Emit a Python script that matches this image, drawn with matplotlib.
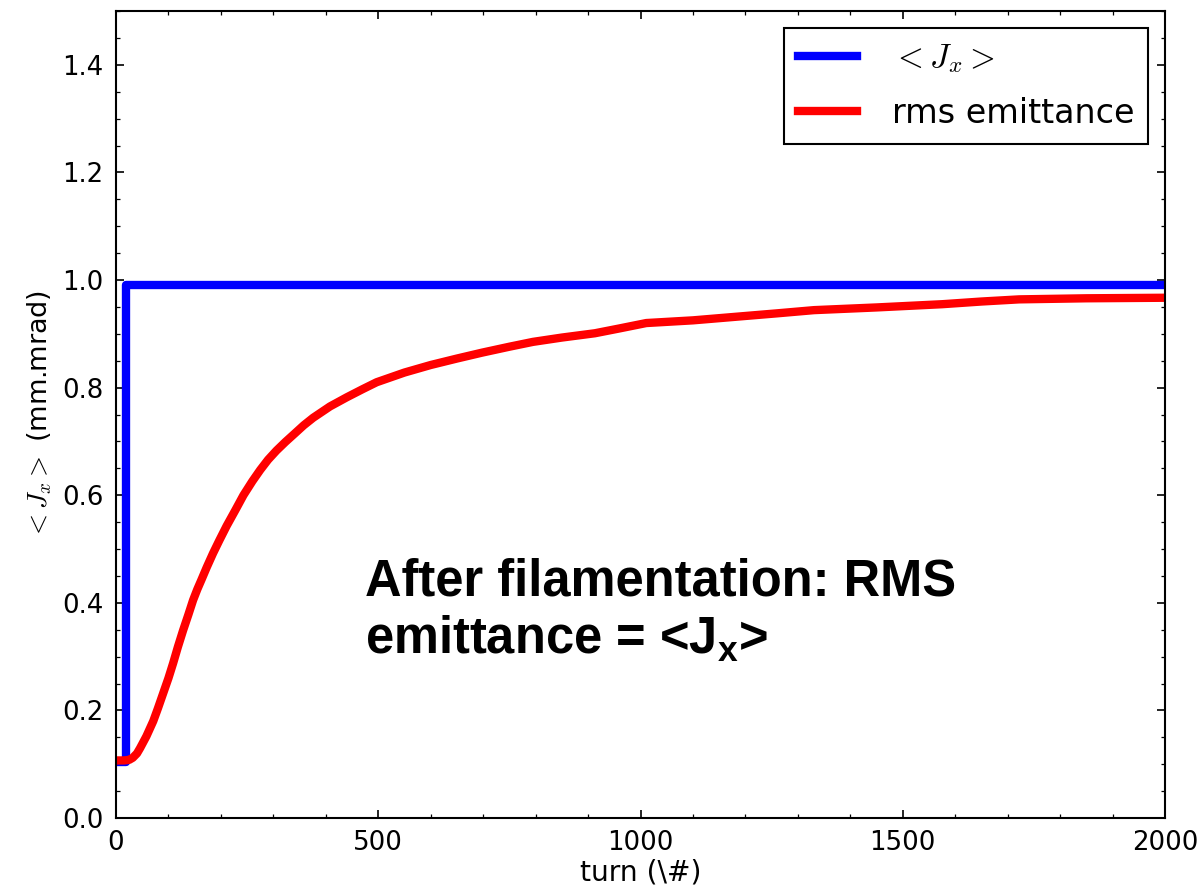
import matplotlib
matplotlib.use("Agg")
import matplotlib.pyplot as plt
from matplotlib.ticker import MultipleLocator

# blue: <J_x>, jumps right after injection
jx_turn = [0, 20, 20, 2000]
jx_val = [0.105, 0.105, 0.99, 0.99]

# red: rms emittance, filamentation growth
rms_turn = [0, 15, 25, 32, 40, 46, 58, 71, 80, 90, 100, 109, 118, 128, 138, 147,
            155, 163, 173, 185, 197, 211, 228, 243, 260, 275, 290, 306, 323,
            340, 358, 376, 408, 440, 470, 497, 550, 600, 650, 698, 750, 795,
            850, 913, 960, 1011, 1100, 1186, 1260, 1331, 1450, 1575, 1650, 1722,
            1850, 2000]
rms_val = [0.107, 0.107, 0.108, 0.112, 0.12, 0.13, 0.152, 0.18, 0.204, 0.232,
           0.26, 0.288, 0.318, 0.349, 0.378, 0.405, 0.425, 0.443, 0.466, 0.492,
           0.516, 0.543, 0.573, 0.6, 0.626, 0.647, 0.666, 0.683, 0.699, 0.714,
           0.73, 0.744, 0.765, 0.782, 0.797, 0.81, 0.828, 0.842, 0.854, 0.865,
           0.876, 0.885, 0.893, 0.901, 0.91, 0.92, 0.925, 0.932, 0.938, 0.944,
           0.949, 0.955, 0.96, 0.964, 0.966, 0.967]

plt.rcParams["mathtext.fontset"] = "cm"
plt.rcParams["mathtext.rm"] = "Liberation Sans:bold"
plt.rcParams["mathtext.it"] = "Liberation Sans:bold"
plt.rcParams["mathtext.bf"] = "Liberation Sans:bold"

fig = plt.figure(figsize=(8, 889 / 150), dpi=150)
ax = fig.add_axes([116 / 1200, 71 / 889, (1165 - 116) / 1200, (878 - 71) / 889])

ax.plot(jx_turn, jx_val, color="blue", lw=4, label=r"$<J_x>$")
ax.plot(rms_turn, rms_val, color="red", lw=4, label="rms emittance",
        solid_joinstyle="round")

ax.set_xlim(0, 2000)
ax.set_ylim(0, 1.5)
ax.xaxis.set_major_locator(MultipleLocator(500))
ax.xaxis.set_minor_locator(MultipleLocator(100))
ax.yaxis.set_major_locator(MultipleLocator(0.2))
ax.yaxis.set_minor_locator(MultipleLocator(0.05))
ax.tick_params(which="both", direction="in", top=True, right=True, labelsize=12.5, pad=6)
ax.tick_params(which="major", length=4)
ax.tick_params(which="minor", length=2)
for sp in ax.spines.values():
    sp.set_linewidth(1.0)

ax.set_xlabel(r"turn (\#)", fontsize=13.5, labelpad=1)
ax.set_ylabel(r"$<J_x>$ (mm.mrad)", fontsize=13, labelpad=4)

leg = ax.legend(loc="upper right", fontsize=16, fancybox=False, framealpha=1,
                edgecolor="black", borderaxespad=0.5, labelspacing=0.65,
                borderpad=0.42, handlelength=1.75, handletextpad=1.05)
leg.get_frame().set_linewidth(1.0)
leg.get_texts()[0].set_math_fontfamily("cm")

ax.text(475, 0.485, "After filamentation: RMS\nemittance = <J$_{x}$>",
        fontsize=24.3, fontweight="bold", family="Liberation Sans",
        math_fontfamily="custom", va="top", ha="left", linespacing=1.2)

fig.savefig("out.png", dpi=150, facecolor="white")
